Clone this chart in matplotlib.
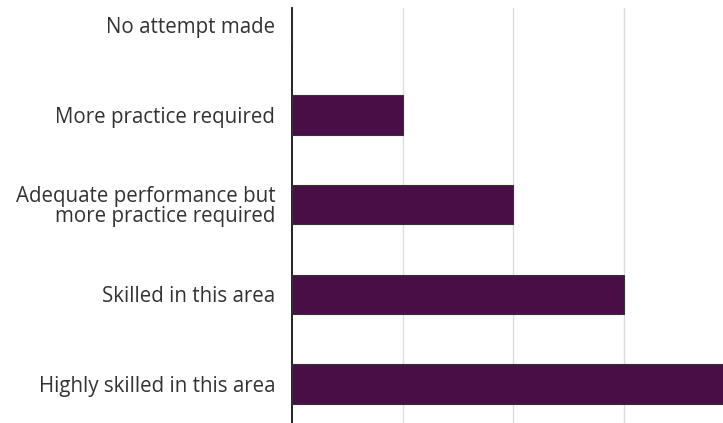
import matplotlib
matplotlib.use('Agg')
import matplotlib.pyplot as plt
import numpy as np

# data
CATEGORIES = [
    "No attempt made",
    "More practice required",
    "Adequate performance but\nmore practice required",
    "Skilled in this area",
    "Highly skilled in this area",
]
VALUES = [0, 1, 2, 3, 4]

BAR_COLOR = '#4a0e46'

plt.rcParams['font.family'] = ['Open Sans', 'DejaVu Sans']

fig = plt.figure(figsize=(7.23, 4.23), dpi=100)
W, H = 723, 423
# axes deliberately runs past the right/bottom edges of the figure
ax = fig.add_axes([292 / W, (H - 430) / H, 442 / W, 422 / H])

y = np.arange(len(CATEGORIES))
ax.barh(y, VALUES, height=0.44, color=BAR_COLOR, edgecolor='#333333',
        linewidth=0.8, zorder=3)

ax.set_xlim(0, 4)
ax.set_ylim(4.51, -0.19)
ax.set_xticks([1, 2, 3])
ax.xaxis.grid(True, color='#dddddd', linewidth=1)
ax.set_axisbelow(True)
ax.tick_params(axis='x', length=0, labelbottom=False)
ax.tick_params(axis='y', length=0, pad=12, labelsize=14.8, labelcolor='#333333')
ax.set_yticks(y)
ax.set_yticklabels(CATEGORIES, linespacing=0.95)

for side in ['top', 'right', 'bottom']:
    ax.spines[side].set_visible(False)
ax.spines['left'].set_color('#111111')
ax.spines['left'].set_linewidth(1.3)

fig.savefig('out.png', dpi=100)
